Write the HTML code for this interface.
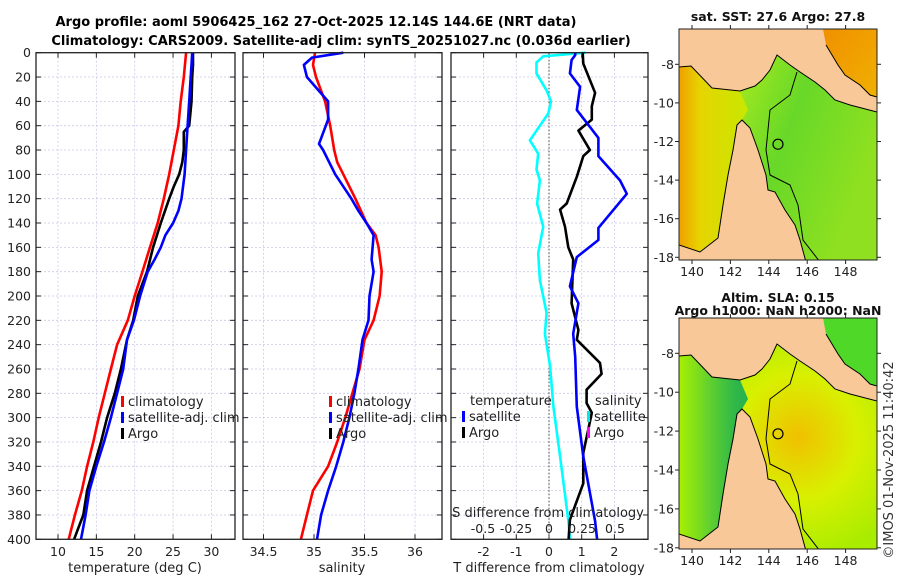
<!DOCTYPE html>
<html><head><meta charset="utf-8"><style>
html,body{margin:0;padding:0;background:#fff;}
svg{display:block;font-family:"DejaVu Sans","Liberation Sans",sans-serif;}
</style></head><body>
<svg id="fig" width="900" height="580" viewBox="0 0 900 580">
<text x="316" y="26" font-size="13" font-weight="bold" text-anchor="middle">Argo profile: aoml 5906425_162 27-Oct-2025 12.14S 144.6E (NRT data)</text>
<text x="341" y="45" font-size="13" font-weight="bold" text-anchor="middle">Climatology: CARS2009. Satellite-adj clim: synTS_20251027.nc (0.036d earlier)</text>
<g id="p1"></g>
<g id="p2"></g>
<g id="p3"></g>
<g id="maps"></g>
<text transform="translate(893,460) rotate(-90)" font-size="13" text-anchor="middle" fill="#333">©IMOS 01-Nov-2025 11:40:42</text>
</svg>
<script>
// ---- data ----
const tDepthClim = [0,20,40,60,80,100,120,140,160,180,200,220,240,260,280,300,320,340,360,380,400];
const tClim = [26.7,26.4,26.0,25.7,25.1,24.5,23.8,23.0,22.0,21.0,20.0,19.1,17.7,16.9,16.1,15.3,14.6,13.8,13.1,12.2,11.4];
const tDepthArgo = [0,10,20,40,60,65,80,90,100,110,120,140,160,180,200,220,236,260,280,300,320,340,360,380,390,400];
const tArgo = [27.6,27.6,27.5,27.4,27.1,26.4,26.4,26.2,25.8,25.1,24.5,23.4,22.4,21.6,20.4,19.8,19.0,18.2,17.4,16.4,15.6,14.7,13.8,13.3,12.7,12.1];
const tDepthSat = [0,10,20,40,60,80,100,120,130,140,150,160,170,180,200,220,236,260,280,300,320,340,360,380,400];
const tSat = [27.5,27.4,27.3,27.1,26.9,26.7,26.5,26.1,25.7,25.0,24.0,23.4,22.6,21.7,20.7,19.9,19.0,18.5,17.7,16.9,16.0,15.0,14.1,13.6,13.0];
const sDepthClim = [0,10,20,40,60,80,90,100,120,140,150,160,180,200,220,236,260,280,300,320,340,360,380,400];
const sClim = [35.01,34.99,35.02,35.11,35.16,35.2,35.23,35.29,35.41,35.52,35.61,35.64,35.67,35.65,35.59,35.5,35.45,35.38,35.31,35.23,35.14,34.99,34.93,34.87];
const sDepthSat = [0,4,10,20,40,55,75,80,100,120,130,140,150,170,180,200,220,236,260,280,300,320,340,360,380,400];
const sSat = [35.29,34.98,34.9,34.93,35.14,35.14,35.05,35.09,35.21,35.37,35.44,35.52,35.59,35.57,35.59,35.55,35.54,35.48,35.44,35.4,35.35,35.29,35.22,35.14,35.07,35.03];
const dsDepth = [0,3,8,17,31,40,50,72,83,96,105,124,143,165,187,214,231,258,291,332,385,400];
const dsSat = [0.275,-0.044,-0.095,-0.095,-0.018,0.015,-0.005,-0.145,-0.082,-0.095,-0.069,-0.09,-0.044,-0.082,-0.069,-0.018,-0.031,0.008,0.033,0.084,0.147,0.16];
const dtSatDepth = [0,2,6,17,28,47,70,85,105,116,144,154,168,192,206,231,250,291,332,385,400];
const dtSat = [0.8,0.8,0.69,0.64,0.95,0.85,1.51,1.51,2.17,2.38,1.51,1.51,0.85,0.64,0.9,0.74,0.8,0.85,1.05,1.41,1.47];
const dtArgoDepth = [0,9,33,44,55,64,80,85,102,124,129,143,160,170,206,228,236,255,264,277,288,296,329,354,384,400];
const dtArgo = [1.03,1.05,1.41,1.31,1.31,0.9,1.25,1.05,0.85,0.54,0.34,0.49,0.59,0.74,0.69,0.9,0.85,1.56,1.61,1.15,1.15,1.31,1.05,1.05,0.64,0.6];
const depthTicks = [0,20,40,60,80,100,120,140,160,180,200,220,240,260,280,300,320,340,360,380,400];
const tTicks = [10,15,20,25,30];
const sTicks = [34.5,35,35.5,36];
const dtTicks = [-2,-1,0,1,2];
const dsTicks = [-0.5,-0.25,0,0.25,0.5];
const dsTickLabels = ['-0.5','-0.25','0','0.25','0.5'];
const lonTicks = [140,142,144,146,148];
const latTicks = [-8,-10,-12,-14,-16,-18];

const NS='http://www.w3.org/2000/svg';
function mk(tag,attrs,parent){const e=document.createElementNS(NS,tag);for(const k in attrs)e.setAttribute(k,attrs[k]);parent.appendChild(e);return e;}
const Y0=52.7, YK=1.2165;
const yD=d=>Y0+d*YK;
const PT=52.7, PB=539.3;

function panel(g,x0,x1,xs,ticks,labels,grid){
  mk('rect',{x:x0,y:PT,width:x1-x0,height:PB-PT,fill:'#fff'},g);
  grid.forEach(v=>{const x=xs(v);const l=mk('line',{x1:x,x2:x,y1:PT,y2:PB,stroke:'#c8c8e8','stroke-width':0.8,'stroke-dasharray':'2,2'},g);
    
    });
  depthTicks.forEach(d=>{const y=yD(d);const l=mk('line',{x1:x0,x2:x1,y1:y,y2:y,stroke:'#c8c8e8','stroke-width':0.8,'stroke-dasharray':'2,2'},g);
    
    
    mk('line',{x1:x0,x2:x0+5,y1:y,y2:y,stroke:'#222'},g);mk('line',{x1:x1,x2:x1-5,y1:y,y2:y,stroke:'#222'},g);});
  ticks.forEach((v,i)=>{const x=xs(v);mk('line',{x1:x,x2:x,y1:PB,y2:PB-5,stroke:'#222'},g);mk('line',{x1:x,x2:x,y1:PT,y2:PT+5,stroke:'#222'},g);
    const t=mk('text',{x:x,y:556,'font-size':12.5,'text-anchor':'middle',fill:'#222'},g);t.textContent=labels[i];
    
    });
}
function line(g,xs,vals,depths,color,name){
  const pts=vals.map((v,i)=>xs(v).toFixed(1)+','+yD(depths[i]).toFixed(1)).join(' ');
  const p=mk('polyline',{points:pts,fill:'none',stroke:color,'stroke-width':2.6,'stroke-linejoin':'round'},g);
  
  
}
function frame(g,x0,x1){mk('rect',{x:x0,y:PT,width:x1-x0,height:PB-PT,fill:'none',stroke:'#222','stroke-width':1.3},g);}
function legItem(g,x,y,color,label,name){
  mk('rect',{x:x,y:y-10,width:3,height:11,fill:color},g);
  const t=mk('text',{x:x+7,y:y,'font-size':13,fill:'#222'},g);t.textContent=label;
  
  
}

// panel 1
const g1=document.getElementById('p1');
const xT=v=>58+(v-10)*7.67;
panel(g1,36,235,xT,tTicks,tTicks.map(String),tTicks);
depthTicks.forEach(d=>{const t=mk('text',{x:31,y:yD(d)+4.5,'font-size':12.5,'text-anchor':'end',fill:'#222'},g1);t.textContent=d;
  
  });
line(g1,xT,tClim,tDepthClim,'#ff0000','temp-climatology-line');
line(g1,xT,tArgo,tDepthArgo,'#000000','temp-argo-line');
line(g1,xT,tSat,tDepthSat,'#0000ff','temp-satellite-line');
frame(g1,36,235);
legItem(g1,121,406,'#ff0000','climatology','legend-climatology');
legItem(g1,121,422,'#0000ff','satellite-adj. clim','legend-satellite');
legItem(g1,121,438,'#000000','Argo','legend-argo');
{const t=mk('text',{x:135,y:572,'font-size':13,'text-anchor':'middle',fill:'#222'},g1);t.textContent='temperature (deg C)';
 
 }

// panel 2
const g2=document.getElementById('p2');
const xS=v=>314+(v-35)*101;
panel(g2,243,442,xS,sTicks,sTicks.map(String),sTicks);
line(g2,xS,sClim,sDepthClim,'#ff0000','sal-climatology-line');
line(g2,xS,sSat,sDepthSat,'#0000ff','sal-satellite-line');
frame(g2,243,442);
legItem(g2,329,406,'#ff0000','climatology','legend-climatology');
legItem(g2,329,422,'#0000ff','satellite-adj. clim','legend-satellite');
legItem(g2,329,438,'#000000','Argo','legend-argo');
{const t=mk('text',{x:342,y:572,'font-size':13,'text-anchor':'middle',fill:'#222'},g2);t.textContent='salinity';
 
 }

// panel 3
const g3=document.getElementById('p3');
const xDT=v=>549+v*32.7;
const xDS=v=>549+v*132;
panel(g3,451,648,xDT,dtTicks,dtTicks.map(String),dtTicks);
mk('line',{x1:549,x2:549,y1:PT,y2:PB,stroke:'#444','stroke-width':1,'stroke-dasharray':'1.5,2'},g3);
line(g3,xDS,dsSat,dsDepth,'#00ffff','sal-diff-satellite-line');
line(g3,xDT,dtArgo,dtArgoDepth,'#000000','temp-diff-argo-line');
line(g3,xDT,dtSat,dtSatDepth,'#0000ff','temp-diff-satellite-line');
frame(g3,451,648);
dsTicks.forEach((v,i)=>{const t=mk('text',{x:xDS(v),y:533,'font-size':12.5,'text-anchor':'middle',fill:'#222'},g3);t.textContent=dsTickLabels[i];
  
  });
{const t=mk('text',{x:548,y:517,'font-size':13,'text-anchor':'middle',fill:'#222'},g3);t.textContent='S difference from climatology';
 
 }
{const t=mk('text',{x:549,y:572,'font-size':13,'text-anchor':'middle',fill:'#222'},g3);t.textContent='T difference from climatology';
 
 }
{const t=mk('text',{x:470,y:405,'font-size':13,fill:'#222'},g3);t.textContent='temperature';
 
 }
{const t=mk('text',{x:595,y:405,'font-size':13,fill:'#222'},g3);t.textContent='salinity';
 
 }
legItem(g3,462,421,'#0000ff','satellite','legend-temp-satellite');
legItem(g3,462,437,'#000000','Argo','legend-temp-argo');
legItem(g3,587,421,'#00e8e8','satellite','legend-sal-satellite');
legItem(g3,587,437,'#ff00ff','Argo','legend-sal-argo');

// maps
const gm=document.getElementById('maps');
const defs=mk('defs',{},gm);
function grad(id,stops,x2,y2){const lg=mk('linearGradient',{id:id,x1:0,y1:0,x2:x2,y2:y2},defs);stops.forEach(s=>mk('stop',{offset:s[0],'stop-color':s[1]},lg));}
grad('gw1',[[0,'#f0a000'],[0.3,'#e6d400'],[1,'#c8e800']],1,0);
grad('ge1',[[0,'#b8ec18'],[0.3,'#a0e820'],[0.6,'#68d828'],[1,'#8ee020']],1,0.4);
grad('gn1',[[0,'#f09000'],[1,'#f0b000']],1,1);
grad('gw2',[[0,'#a8f000'],[0.45,'#60d030'],[0.8,'#30b848'],[1,'#28b050']],1,0);
const rg=mk('radialGradient',{id:'ge2',cx:0.6,cy:0.45,r:0.6},defs);
mk('stop',{offset:0,'stop-color':'#f0c000'},rg);mk('stop',{offset:0.5,'stop-color':'#d8f000'},rg);mk('stop',{offset:1,'stop-color':'#a8ec00'},rg);

function drawMap(oy,ylat,west,east,north,title1,title2,name){
  const g=mk('g',{},gm);
  
  
  const X0=679,X1=877,Yt=oy,Yb=oy+231;
  const cp='clip'+oy;const c=mk('clipPath',{id:cp},defs);mk('rect',{x:X0,y:Yt,width:X1-X0,height:Yb-Yt},c);
  const inner=mk('g',{'clip-path':'url(#'+cp+')'},g);
  mk('rect',{x:X0,y:Yt,width:X1-X0,height:Yb-Yt,fill:'#f8c898'},inner);
  const d=oy-29;
  const P=arr=>arr.map(p=>p[0]+','+(p[1]+d)).join(' ');
  mk('polygon',{points:P([[679,67],[691,66],[712,88],[740,91],[755,86],[762,80],[770,70],[777,55],[790,65],[800,72],[815,82],[825,90],[835,100],[850,105],[877,112],[877,262],[806,262],[800,240],[795,225],[785,210],[775,192],[768,190],[766,175],[758,150],[750,128],[742,120],[737,125],[733,150],[728,175],[723,205],[718,238],[700,252],[679,245]]),fill:east},inner);
  mk('polygon',{points:P([[679,67],[691,66],[712,88],[740,91],[748,110],[742,120],[737,125],[733,150],[728,175],[723,205],[718,238],[700,252],[679,245]]),fill:west},inner);
  mk('polygon',{points:P([[823,29],[877,29],[877,97],[870,95],[860,85],[845,75],[838,65],[826,45]]),fill:north},inner);
  mk('polyline',{points:P([[679,67],[691,66],[712,88],[740,91],[755,86],[762,80],[770,70],[777,55],[790,65],[800,72],[815,82],[825,90],[835,100],[850,105],[877,112]]),fill:'none',stroke:'#000','stroke-width':1},inner);
  mk('polyline',{points:P([[679,245],[700,252],[718,238],[723,205],[728,175],[733,150],[737,125],[742,120],[750,128],[758,150],[766,175],[768,190],[775,192],[785,210],[795,225],[800,240],[806,262]]),fill:'none',stroke:'#000','stroke-width':1},inner);
  mk('polyline',{points:P([[826,45],[838,65],[845,75],[860,85],[870,95],[877,97]]),fill:'none',stroke:'#000','stroke-width':1},inner);
  mk('polyline',{points:P([[797,72],[790,95],[770,110],[766,150],[770,175],[790,185],[798,205],[803,240],[820,262]]),fill:'none',stroke:'#000','stroke-width':1},inner);
  const pin=mk('circle',{cx:778,cy:ylat(-12.14),r:5,fill:'none',stroke:'#000','stroke-width':1.2},g);
  
  
  mk('rect',{x:X0,y:Yt,width:X1-X0,height:Yb-Yt,fill:'none',stroke:'#222','stroke-width':1},g);
  const xl=v=>692+(v-140)*19.2;
  lonTicks.forEach(v=>{const x=xl(v);mk('line',{x1:x,x2:x,y1:Yb,y2:Yb+4,stroke:'#222'},g);mk('line',{x1:x,x2:x,y1:Yt,y2:Yt-4,stroke:'#222'},g);
    const t=mk('text',{x:x,y:Yb+16,'font-size':12.5,'text-anchor':'middle',fill:'#222'},g);t.textContent=v;
    
    });
  latTicks.forEach(v=>{const y=ylat(v);mk('line',{x1:X0,x2:X0-4,y1:y,y2:y,stroke:'#222'},g);mk('line',{x1:X1,x2:X1+4,y1:y,y2:y,stroke:'#222'},g);
    const t=mk('text',{x:674,y:y+4.5,'font-size':12.5,'text-anchor':'end',fill:'#222'},g);t.textContent=v;
    
    });
  const t1=mk('text',{x:778,y:title2?oy-16:oy-8,'font-size':12.5,'font-weight':'bold','text-anchor':'middle',fill:'#111'},g);t1.textContent=title1;
  
  
  if(title2){const t2=mk('text',{x:778,y:oy-3,'font-size':12.5,'font-weight':'bold','text-anchor':'middle',fill:'#111'},g);t2.textContent=title2;
    
    }
}
drawMap(29,v=>64.3+(-8-v)*19.3,'url(#gw1)','url(#ge1)','url(#gn1)','sat. SST: 27.6 Argo: 27.8',null,'sst-map');
drawMap(318,v=>353.3+(-8-v)*19.45,'url(#gw2)','url(#ge2)','#50d828','Altim. SLA: 0.15','Argo h1000: NaN h2000: NaN','sla-map');
</script>
</body></html>
